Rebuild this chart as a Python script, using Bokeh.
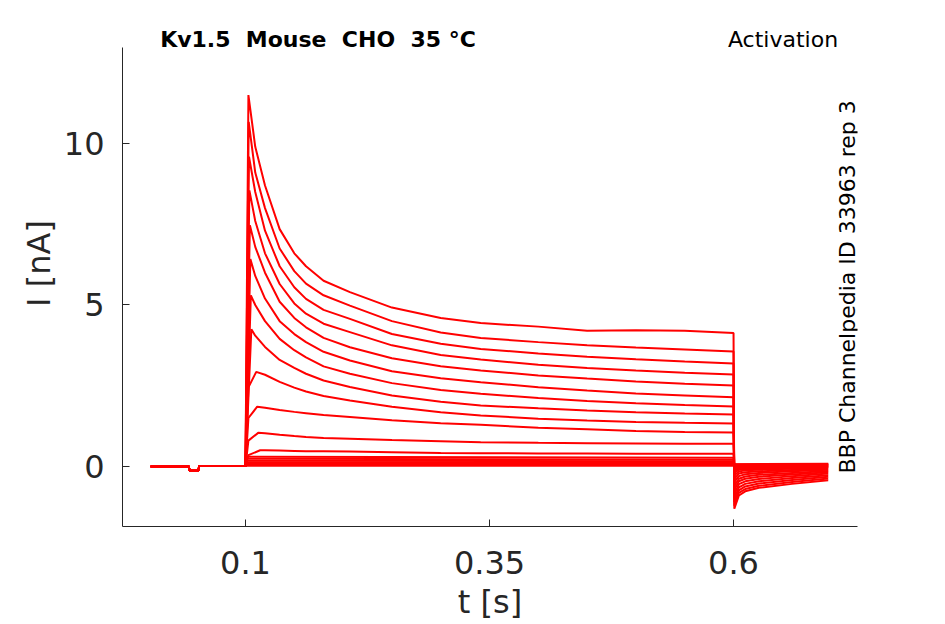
import math
from bokeh.plotting import figure
from bokeh.models import FixedTicker, Label
from bokeh.embed import file_html
from bokeh.resources import INLINE

# holding period before the step (shared by all sweeps)
t_base = [0.003, 0.042, 0.0425, 0.052, 0.0525, 0.1]
i_base = [0.0, 0.0, -0.12, -0.12, 0.01, 0.01]

# peak of each sweep that activates
peak_t = [0.103, 0.1033, 0.1036, 0.104, 0.1045, 0.105, 0.1055, 0.106, 0.111, 0.112, 0.113, 0.115]
peak_i = [11.5, 10.67, 9.59, 8.55, 7.47, 6.42, 5.30, 4.25, 2.93, 1.85, 1.04, 0.50]
rise_t = 0.103
rise_i = [None, None, None, None, None, None, None, None, 2.45, 1.5, 0.8, 0.35]

# current during the step, read at these times
t_step = [0.11, 0.12, 0.135, 0.15, 0.162, 0.18, 0.207, 0.25, 0.3, 0.341, 0.4, 0.45, 0.5, 0.55, 0.6]
i_step = [
    [9.9, 8.7, 7.35, 6.6, 6.2, 5.75, 5.40, 4.92, 4.6, 4.44, 4.33, 4.2, 4.22, 4.2, 4.13],
    [9.1, 8.0, 6.75, 6.05, 5.66, 5.3, 4.98, 4.5, 4.15, 3.98, 3.85, 3.75, 3.68, 3.62, 3.56],
    [8.5, 7.3, 6.2, 5.55, 5.19, 4.85, 4.57, 4.1, 3.8, 3.64, 3.5, 3.4, 3.32, 3.25, 3.19],
    [7.6, 6.6, 5.65, 5.05, 4.73, 4.42, 4.16, 3.75, 3.45, 3.31, 3.15, 3.05, 2.97, 2.9, 2.85],
    [6.8, 6.0, 5.1, 4.6, 4.31, 3.98, 3.69, 3.35, 3.1, 2.97, 2.82, 2.72, 2.63, 2.56, 2.51],
    [5.9, 5.2, 4.5, 4.1, 3.85, 3.55, 3.28, 2.95, 2.73, 2.61, 2.45, 2.35, 2.26, 2.2, 2.14],
    [5.0, 4.5, 3.95, 3.6, 3.38, 3.1, 2.87, 2.58, 2.37, 2.25, 2.12, 2.03, 1.96, 1.9, 1.86],
    [4.05, 3.7, 3.3, 3.05, 2.87, 2.66, 2.46, 2.2, 2.0, 1.89, 1.8, 1.73, 1.68, 1.64, 1.61],
    [2.9, 2.84, 2.62, 2.44, 2.32, 2.18, 2.04, 1.85, 1.68, 1.58, 1.48, 1.42, 1.38, 1.35, 1.33],
    [1.8, 1.82, 1.75, 1.69, 1.65, 1.59, 1.53, 1.43, 1.34, 1.29, 1.2, 1.15, 1.1, 1.07, 1.05],
    [0.98, 1.03, 0.98, 0.94, 0.91, 0.88, 0.86, 0.82, 0.78, 0.75, 0.73, 0.72, 0.71, 0.70, 0.70],
    [0.45, 0.5, 0.49, 0.48, 0.47, 0.47, 0.46, 0.44, 0.42, 0.41, 0.40, 0.40, 0.39, 0.39, 0.39],
]

# tail currents after the step
t_tail = [0.6008, 0.6055, 0.612, 0.626, 0.66, 0.697]
i_tail = [
    [-1.31, -0.9, -0.77, -0.66, -0.54, -0.43],
    [-1.22, -0.82, -0.7, -0.6, -0.48, -0.37],
    [-1.1, -0.74, -0.62, -0.53, -0.42, -0.32],
    [-0.98, -0.65, -0.54, -0.46, -0.36, -0.27],
    [-0.85, -0.55, -0.46, -0.39, -0.3, -0.22],
    [-0.72, -0.46, -0.38, -0.32, -0.25, -0.18],
    [-0.6, -0.38, -0.31, -0.26, -0.2, -0.14],
    [-0.48, -0.3, -0.24, -0.2, -0.15, -0.1],
    [-0.38, -0.22, -0.18, -0.15, -0.11, -0.07],
    [-0.28, -0.16, -0.12, -0.1, -0.07, -0.04],
    [-0.2, -0.1, -0.07, -0.05, -0.03, -0.02],
    [-0.12, -0.05, -0.03, -0.02, -0.01, 0.0],
]

# sweeps that barely activate
small_on = [0.30, 0.24, 0.18, 0.13, 0.09, 0.05, 0.02]
small_off = [0.27, 0.21, 0.16, 0.12, 0.08, 0.05, 0.02]
small_tail0 = [-0.1, -0.05, 0.0, 0.03, 0.05, 0.06, 0.07]
small_tail1 = [0.0, 0.02, 0.04, 0.05, 0.06, 0.07, 0.08]

# axes extent and ticks
x_axis_bounds = (-0.026, 0.727)
y_axis_bounds = (-1.86, 12.97)
x_ticks = [0.1, 0.35, 0.6]
x_tick_labels = ["0.1", "0.35", "0.6"]
y_ticks = [0, 5, 10]

RED = "#ff0000"
AX = "#262626"
FONT = "DejaVu Sans"
NB = "\u00a0"

# frame runs to the top of the canvas so the texts there are not clipped
p = figure(width=945, height=624, output_backend="svg", toolbar_location=None,
           x_range=(-0.026, 0.727), y_range=(-1.86, 14.43),
           min_border_left=122, min_border_right=88, min_border_top=0, min_border_bottom=98)
p.outline_line_color = None
p.grid.visible = False
p.background_fill_color = "white"
p.border_fill_color = "white"

for k in range(len(small_on)):
    ts = t_base + [0.1015, 0.6, 0.6008, 0.697]
    ys = i_base + [small_on[k], small_off[k], small_tail0[k], small_tail1[k]]
    p.line(ts, ys, line_color=RED, line_width=2)

for k in range(len(peak_i)):
    ts = list(t_base)
    ys = list(i_base)
    if rise_i[k] is not None:
        ts.append(rise_t)
        ys.append(rise_i[k])
    ts.append(peak_t[k])
    ys.append(peak_i[k])
    for tt, yy in zip(t_step, i_step[k]):
        if tt > peak_t[k]:
            ts.append(tt)
            ys.append(yy)
    ts += t_tail
    ys += i_tail[k]
    p.line(ts, ys, line_color=RED, line_width=2)

for ax in (p.xaxis[0], p.yaxis[0]):
    ax.axis_line_color = AX
    ax.major_tick_line_color = AX
    ax.major_tick_in = 7
    ax.major_tick_out = 0
    ax.minor_tick_line_color = None
    ax.major_label_text_font = FONT
    ax.major_label_text_font_size = "32px"
    ax.major_label_text_color = AX
    ax.axis_label_text_font = FONT
    ax.axis_label_text_font_size = "32px"
    ax.axis_label_text_font_style = "normal"
    ax.axis_label_text_color = AX

p.xaxis.bounds = x_axis_bounds
p.yaxis.bounds = y_axis_bounds
p.xaxis.ticker = FixedTicker(ticks=x_ticks)
p.xaxis.major_label_overrides = dict(zip(x_ticks, x_tick_labels))
p.yaxis.ticker = FixedTicker(ticks=y_ticks)
p.xaxis.axis_label = "t [s]"
p.yaxis.axis_label = "I [nA]"
p.xaxis.major_label_standoff = 24
p.xaxis.axis_label_standoff = 6
p.yaxis.major_label_standoff = 18
p.yaxis.axis_label_standoff = 3

texts = [
    dict(x=0.1743, y=13.22, text="Kv1.5" + NB + " Mouse" + NB + " CHO" + NB + " 35 °C",
         text_font_size="22px", text_font_style="bold", text_color="black", angle=0),
    dict(x=0.6507, y=13.22, text="Activation", text_font_size="22px",
         text_color="black", angle=0),
    dict(x=0.7163, y=5.56, text="BBP Channelpedia ID 33963 rep 3", text_font_size="22px",
         text_color="black", angle=math.pi / 2),
]
for d in texts:
    p.add_layout(Label(text_font=FONT, text_align="center", text_baseline="middle", **d))

open("out.html", "w").write(file_html(p, INLINE))
